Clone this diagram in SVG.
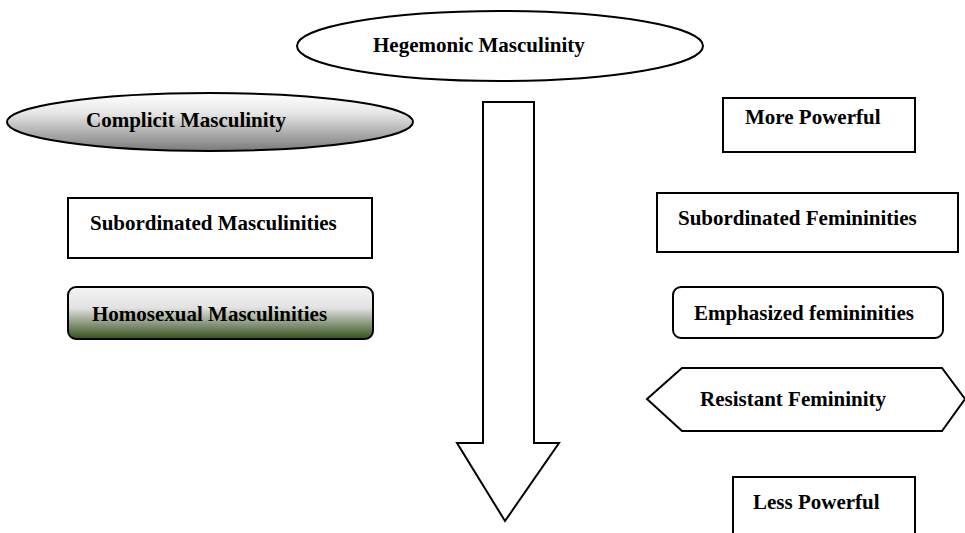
<svg xmlns="http://www.w3.org/2000/svg" width="965" height="533" viewBox="0 0 965 533">
<defs>
<linearGradient id="gGray" x1="0" y1="0" x2="0" y2="1">
<stop offset="0" stop-color="#ffffff"/>
<stop offset="0.35" stop-color="#e6e6e6"/>
<stop offset="1" stop-color="#7a7a7a"/>
</linearGradient>
<linearGradient id="gGreen" x1="0" y1="0" x2="0" y2="1">
<stop offset="0" stop-color="#f4f4f4"/>
<stop offset="0.4" stop-color="#e2e2e2"/>
<stop offset="1" stop-color="#34501a"/>
</linearGradient>
</defs>
<style>
.s{stroke:#000;stroke-width:2;fill:#fff}
.t{font-family:"Liberation Serif","Times New Roman",serif;font-weight:bold;font-size:21px;fill:#000}
</style>
<g id="arrow">
<polygon class="s" points="483,102 534,102 534,443 559,443 505,521 457,443 483,443"/>
</g>
<g id="hegemonic">
<ellipse class="s" cx="500" cy="46" rx="203" ry="35"/>
<text class="t" x="373" y="52">Hegemonic Masculinity</text>
</g>
<g id="complicit">
<ellipse cx="210" cy="122" rx="203" ry="29" fill="url(#gGray)" stroke="#000" stroke-width="2"/>
<text class="t" x="86" y="127">Complicit Masculinity</text>
</g>
<g id="subMasc">
<rect class="s" x="68" y="198" width="304" height="60"/>
<text class="t" x="90" y="230">Subordinated Masculinities</text>
</g>
<g id="homosexual">
<rect x="68" y="287" width="305" height="52" rx="8" fill="url(#gGreen)" stroke="#000" stroke-width="2"/>
<text class="t" x="92" y="321">Homosexual Masculinities</text>
</g>
<g id="morePowerful">
<rect class="s" x="723" y="98" width="192" height="54"/>
<text class="t" x="745" y="124">More Powerful</text>
</g>
<g id="subFem">
<rect class="s" x="657" y="193" width="301" height="59"/>
<text class="t" x="678" y="225">Subordinated Femininities</text>
</g>
<g id="emphasized">
<rect class="s" x="673" y="287" width="270" height="51" rx="8"/>
<text class="t" x="694" y="320">Emphasized femininities</text>
</g>
<g id="resistant">
<polygon class="s" points="647,399 682,368 942,368 965,399 942,431 682,431"/>
<text class="t" x="700" y="406">Resistant Femininity</text>
</g>
<g id="lessPowerful">
<rect class="s" x="733" y="477" width="182" height="70"/>
<text class="t" x="753" y="509">Less Powerful</text>
</g>
</svg>
